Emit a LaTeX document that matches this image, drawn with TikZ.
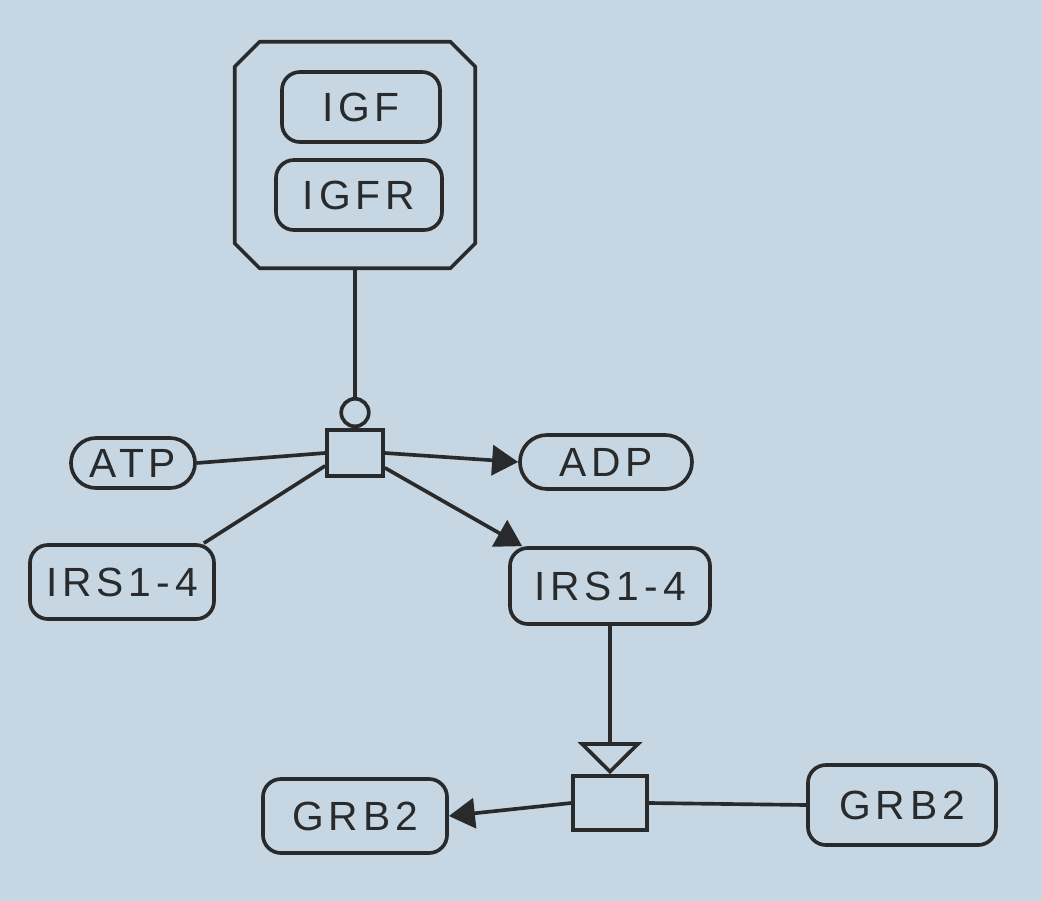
\documentclass[tikz,border=0pt]{standalone}
\usepackage{fontspec}
\setmainfont[LetterSpace=12]{Liberation Sans}
\usetikzlibrary{shapes.misc,arrows.meta,calc}
\definecolor{paper}{RGB}{198,214,226}
\definecolor{ink}{RGB}{40,42,44}
\tikzset{
  every node/.style={font=\fontsize{29}{32}\selectfont, text=ink},
  ent/.style={draw=ink, line width=2.6pt, rectangle, rounded corners=0.45cm, inner sep=0pt},
  stad/.style={draw=ink, line width=2.6pt, rounded rectangle, inner sep=0pt},
  proc/.style={draw=ink, line width=2.6pt, rectangle, inner sep=0pt},
  link/.style={draw=ink, line width=2.6pt},
  prod/.style={link, -{Triangle[length=0.65cm,width=0.75cm]}},
  stim/.style={link, -{Triangle[open,length=0.8cm,width=1.6cm,fill=paper]}},
  cata/.style={link, -{Circle[open,length=0.78cm,fill=paper]}},
}
\begin{document}
\begin{tikzpicture}[x=0.025cm,y=-0.025cm]
\fill[paper] (0,0) rectangle (1042,901);
\useasboundingbox (0,0) rectangle (1042,901);
% complex (chamfered outline drawn on the node's anchors)
\node (cx) [inner sep=0pt, minimum width=6cm, minimum height=5.65cm] at (355,155) {};
\draw[link, line join=round] ($(cx.north west)+(25,0)$) -- ($(cx.north east)+(-25,0)$)
  -- ($(cx.north east)+(0,25)$) -- ($(cx.south east)+(0,-25)$)
  -- ($(cx.south east)+(-25,0)$) -- ($(cx.south west)+(25,0)$)
  -- ($(cx.south west)+(0,-25)$) -- ($(cx.north west)+(0,25)$) -- cycle;
\node (igf) [ent, minimum width=3.95cm, minimum height=1.75cm] at (361,107) {IGF};
\node (igfr) [ent, minimum width=4.15cm, minimum height=1.75cm] at (359,195) {IGFR};
% process 1
\node (p1) [proc, minimum width=1.4cm, minimum height=1.15cm] at (355,453) {};
\node (atp) [stad, minimum width=3.1cm, minimum height=1.25cm] at (133,463) {ATP};
\node (irsl) [ent, minimum width=4.6cm, minimum height=1.85cm] at (122,582) {IRS1-4};
\node (adp) [stad, minimum width=4.3cm, minimum height=1.35cm] at (606,462) {ADP};
\node (irsr) [ent, minimum width=5cm, minimum height=1.9cm] at (610,586) {IRS1-4};
% process 2
\node (p2) [proc, minimum width=1.85cm, minimum height=1.35cm] at (610,803) {};
\node (grbl) [ent, minimum width=4.6cm, minimum height=1.85cm] at (355,816) {GRB2};
\node (grbr) [ent, minimum width=4.7cm, minimum height=2cm] at (902,805) {GRB2};
% connectors
\draw[cata] (cx.south) -- (p1.north);
\draw[link] (atp.east) -- (p1.west);
\draw[link] ($(irsl.north east)+(-12,0)$) -- ($(p1.south west)+(0,-12)$);
\draw[prod] (p1.east) -- (adp.west);
\draw[prod] ($(p1.south east)+(0,-10)$) -- ($(irsr.north west)+(14,0)$);
\draw[stim] (irsr.south) -- (p2.north);
\draw[prod] (p2.west) -- (grbl.east);
\draw[link] (p2.east) -- (grbr.west);
\end{tikzpicture}
\end{document}
